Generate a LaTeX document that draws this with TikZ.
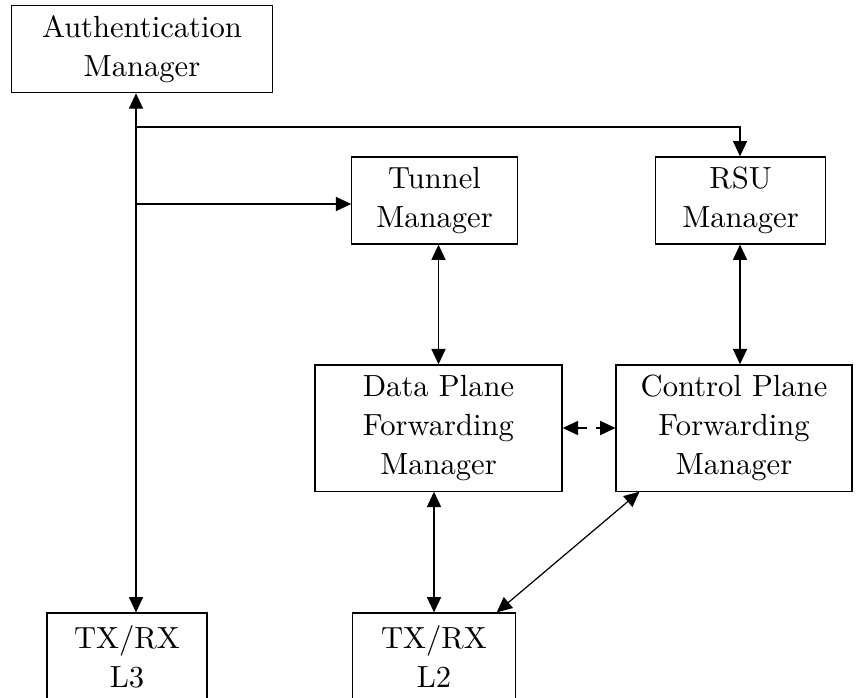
\documentclass[tikz,border=0pt]{standalone}
\usetikzlibrary{arrows.meta}

\begin{document}
\begin{tikzpicture}[
        x=0.01149cm, y=-0.01149cm,
        block/.style={rectangle, draw, align=center, font=\fontsize{10}{12.7}\selectfont, minimum height=1cm},
        tall/.style={block, minimum height=1.45cm},
        arrow/.style={-{Triangle[length=5pt, width=4.6pt]}},
        biarrow/.style={{Triangle[length=5pt, width=4.6pt]}-{Triangle[length=5pt, width=4.6pt]}}
    ]
        \useasboundingbox (0,0) rectangle (856,697);

        \node (auth) [block, minimum width=2.99cm] at (142,49) {Authentication\\Manager};
        \node (tunnel) [block, minimum width=1.90cm] at (434.5,200.5) {Tunnel\\Manager};
        \node (rsu) [block, minimum width=1.96cm] at (740.5,200.5) {RSU\\Manager};
        \node (data) [tall, minimum width=2.84cm] at (438.5,428) {Data Plane\\Forwarding\\Manager};
        \node (control) [tall, minimum width=2.71cm] at (734,428) {Control Plane\\Forwarding\\Manager};
        \node (txl3) [block, minimum width=1.84cm] at (127,656.5) {TX/RX\\L3};
        \node (txl2) [block, minimum width=1.88cm] at (434,656.5) {TX/RX\\L2};

        % shared bus line on the left
        \coordinate (bus) at (136,127);
        \coordinate (tap) at (136,204);
        \coordinate (rsutap) at (740,127);

        \draw[biarrow] (txl3.north -| bus) -- (auth.south -| bus);
        \draw[arrow] (bus) -- (rsutap) -- (rsu.north -| rsutap);
        \draw[arrow] (tap) -- (tunnel.west |- tap);

        \draw[biarrow] (tunnel.south -| data) -- (data.north);
        \draw[biarrow] (rsu.south -| rsutap) -- (control.north -| rsutap);
        \draw[biarrow, dashed] (data.east) -- (control.west);
        \draw[biarrow] (data.south -| txl2) -- (txl2.north);
        \draw[biarrow] (control.south west) ++(24,0) -- ([xshift=0.72cm]txl2.north);

    \end{tikzpicture}
\end{document}
